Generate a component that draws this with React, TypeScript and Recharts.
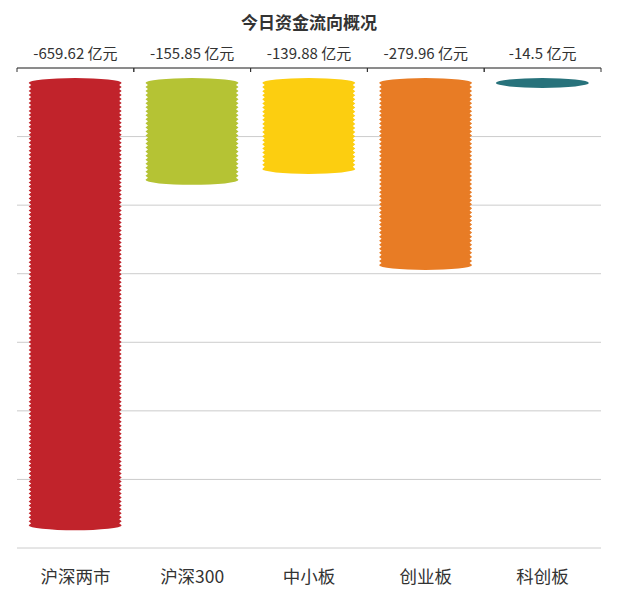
import { BarChart, Bar, XAxis, YAxis, CartesianGrid, Cell } from "recharts";

const categories = ["沪深两市", "沪深300", "中小板", "创业板", "科创板"];
const values = [-659.62, -155.85, -139.88, -279.96, -14.5];
const valueLabels = values.map((v) => `${v} 亿元`);
const colors = ["#C1232B", "#B5C334", "#FCCE10", "#E87C25", "#27727B"];
const yTicks = [0, -100, -200, -300, -400, -500, -600, -700];

const data = categories.map((name, i) => ({
  name,
  label: valueLabels[i],
  value: values[i],
}));

const WIDTH = 610;
const HEIGHT = 595;
const MARGIN = { top: 30, right: 17, bottom: 15, left: 9 };
const FONT = "'Noto Sans CJK SC', 'Microsoft YaHei', sans-serif";
const band = (WIDTH - MARGIN.left - MARGIN.right) / categories.length;

// valeur + petites graduations aux bords de chaque catégorie
function TopTick(props: any) {
  const { x, y, payload } = props;
  const axisY = y + 8;
  const half = band / 2;
  return (
    <g>
      <text x={x} y={axisY - 9} textAnchor="middle" fontSize={15} fill="#333" fontFamily={FONT}>
        {payload.value}
      </text>
      <line x1={x - half} y1={axisY} x2={x - half} y2={axisY + 4} stroke="#333" />
      <line x1={x + half} y1={axisY} x2={x + half} y2={axisY + 4} stroke="#333" />
    </g>
  );
}

// barre aux bords dentelés avec extrémités arrondies
function JaggedBar(props: any) {
  const { x, y, width, height, fill } = props;
  const h = Math.abs(height);
  const top = Math.min(y, y + height) + 10;
  const bottom = top + h;
  const ry = Math.min(5, h / 2);
  const left = x;
  const right = x + width;
  const tooth = 4;
  const depth = 2.5;
  const sideLen = Math.max(0, h - 2 * ry);
  const n = Math.max(1, Math.round(sideLen / tooth));
  const step = sideLen / n;

  let d = `M${left},${top + ry}`;
  for (let i = 0; i < n; i++) {
    d += ` L${left + depth},${top + ry + step * (i + 0.5)} L${left},${top + ry + step * (i + 1)}`;
  }
  d += ` A${width / 2},${ry} 0 0 0 ${right},${bottom - ry}`;
  for (let i = 0; i < n; i++) {
    d += ` L${right - depth},${bottom - ry - step * (i + 0.5)} L${right},${bottom - ry - step * (i + 1)}`;
  }
  d += ` A${width / 2},${ry} 0 0 0 ${left},${top + ry} Z`;
  return <path d={d} fill={fill} />;
}

export default function App() {
  return (
    <div style={{ position: "relative", width: WIDTH, height: HEIGHT }}>
      <div
        style={{
          position: "absolute",
          top: 4,
          left: MARGIN.left,
          width: WIDTH - MARGIN.left - MARGIN.right,
          textAlign: "center",
          fontFamily: FONT,
          fontSize: 17,
          lineHeight: "20px",
          fontWeight: "bold",
          color: "#333",
        }}
      >
        今日资金流向概况
      </div>
      <BarChart width={WIDTH} height={HEIGHT} data={data} margin={MARGIN} barCategoryGap="10%">
        <CartesianGrid xAxisId="top" vertical={false} stroke="#ccc" />
        <XAxis
          xAxisId="top"
          orientation="top"
          dataKey="label"
          height={30}
          tickLine={false}
          axisLine={{ stroke: "#333" }}
          tick={<TopTick />}
          interval={0}
        />
        <XAxis
          xAxisId="bottom"
          orientation="bottom"
          dataKey="name"
          height={40}
          axisLine={false}
          tickLine={false}
          tickMargin={17}
          interval={0}
          tick={{ fontSize: 17.5, fill: "#333", fontFamily: FONT }}
        />
        <YAxis hide type="number" domain={[-700, 0]} ticks={yTicks} />
        <Bar xAxisId="top" dataKey="value" shape={<JaggedBar />} isAnimationActive={false}>
          {data.map((_, i) => (
            <Cell key={i} fill={colors[i]} />
          ))}
        </Bar>
      </BarChart>
    </div>
  );
}
